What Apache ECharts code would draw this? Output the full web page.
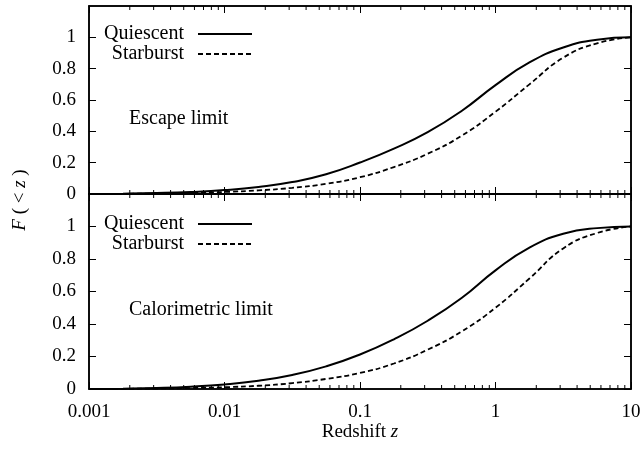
<!DOCTYPE html>
<html><head><meta charset="utf-8">
<script src="https://cdn.jsdelivr.net/npm/echarts@6/dist/echarts.min.js"></script>
<style>html,body{margin:0;padding:0;background:#fff}#c{width:644px;height:453px}</style>
</head><body><div id="c"></div>
<script>
const zValues = [0.001, 0.00178, 0.00316, 0.00562, 0.01, 0.0178, 0.0316, 0.0562, 0.1, 0.178, 0.316, 0.562, 1, 1.78, 3.16, 5.62, 10];
const escapeQuiescent = [0, 0.002, 0.006, 0.013, 0.025, 0.045, 0.076, 0.126, 0.201, 0.290, 0.395, 0.530, 0.695, 0.840, 0.935, 0.985, 1.0];
const escapeStarburst = [0, 0.001, 0.003, 0.007, 0.013, 0.023, 0.039, 0.065, 0.107, 0.172, 0.257, 0.372, 0.525, 0.700, 0.870, 0.962, 1.0];
const caloQuiescent = [0, 0.002, 0.006, 0.014, 0.028, 0.051, 0.086, 0.139, 0.212, 0.306, 0.420, 0.560, 0.730, 0.870, 0.955, 0.990, 1.0];
const caloStarburst = [0, 0.001, 0.003, 0.006, 0.011, 0.020, 0.036, 0.062, 0.099, 0.157, 0.242, 0.354, 0.500, 0.680, 0.865, 0.960, 1.0];
const minorTickValues = [0.002,0.003,0.004,0.005,0.006,0.007,0.008,0.009,0.02,0.03,0.04,0.05,0.06,0.07,0.08,0.09,0.2,0.3,0.4,0.5,0.6,0.7,0.8,0.9,2,3,4,5,6,7,8,9];
const xTickLabels = ['0.001', '0.01', '0.1', '1', '10'];
const yTickLabels = ['0', '0.2', '0.4', '0.6', '0.8', '1'];
const seriesNames = ['Quiescent', 'Starburst'];
const panelLabels = ['Escape limit', 'Calorimetric limit'];

const FONT = '"Liberation Serif", "Times New Roman", serif';
const pair = (vals) => zValues.map((z, i) => [z, vals[i]]);

const chart = echarts.init(document.getElementById('c'), null, {renderer: 'canvas'});

const grids = [
  {left: 89, right: 13, top: 6, height: 188, show: true, borderColor: '#000', borderWidth: 1.5, backgroundColor: 'transparent'},
  {left: 89, right: 13, top: 194, height: 195, show: true, borderColor: '#000', borderWidth: 1.5, backgroundColor: 'transparent'}
];

function xAx(gi, pos, labels) {
  return {
    type: 'log', logBase: 10, min: 0.001, max: 10, gridIndex: gi, position: pos,
    axisLine: {show: true, onZero: false, lineStyle: {color: '#000', width: 1.5}},
    axisTick: {show: true, inside: true, length: 7, lineStyle: {color: '#000', width: 1}},
    splitLine: {show: false},
    axisLabel: {show: labels, margin: 14, color: '#000', fontFamily: FONT, fontSize: 19,
      formatter: (v, i) => xTickLabels[i] !== undefined ? xTickLabels[i] : ''},
    name: labels ? '{n|Redshift }{i|z}' : '',
    nameLocation: 'middle', nameGap: 27,
    nameTextStyle: {rich: {n: {fontFamily: FONT, fontSize: 19, color: '#000'}, i: {fontFamily: FONT, fontSize: 19, fontStyle: 'italic', color: '#000'}}}
  };
}
function yAx(gi, pos, labels) {
  return {
    type: 'value', min: 0, max: 1.2, interval: 0.2, gridIndex: gi, position: pos,
    axisLine: {show: true, onZero: false, lineStyle: {color: '#000', width: 1.5}},
    axisTick: {show: true, inside: true, length: 7, lineStyle: {color: '#000', width: 1}},
    splitLine: {show: false},
    axisLabel: {show: labels, showMaxLabel: false, margin: 13, color: '#000', fontFamily: FONT, fontSize: 19,
      formatter: (v, i) => yTickLabels[i] !== undefined ? yTickLabels[i] : ''}
  };
}

const minorTickSeries = (gi) => ({
  type: 'custom', xAxisIndex: gi * 2, yAxisIndex: gi * 2, silent: true, z: 5,
  data: minorTickValues.map(v => [v, 0.5]),
  encode: {x: 0, y: 1},
  renderItem: (params, api) => {
    const x = api.coord([api.value(0), 0.5])[0];
    const cs = params.coordSys;
    const b = cs.y + cs.height;
    return {type: 'group', children: [
      {type: 'line', shape: {x1: x, y1: b, x2: x, y2: b - 4}, style: {stroke: '#000', lineWidth: 1}},
      {type: 'line', shape: {x1: x, y1: cs.y, x2: x, y2: cs.y + 4}, style: {stroke: '#000', lineWidth: 1}}
    ]};
  }
});

const lineSeries = (gi, name, vals, dashed) => ({
  type: 'line', name: name, xAxisIndex: gi * 2, yAxisIndex: gi * 2,
  data: pair(vals), smooth: 0.5, symbol: 'none', z: 3,
  lineStyle: {color: '#000', width: dashed ? 1.8 : 2, type: dashed ? [5, 3] : 'solid'},
  itemStyle: {color: '#000'}
});

const legendFor = (top) => ({
  orient: 'vertical', align: 'right', right: 391, top: top, itemGap: 0, padding: 0,
  itemWidth: 54, itemHeight: 20, selectedMode: false,
  data: seriesNames,
  itemStyle: {opacity: 0, borderWidth: 0},
  textStyle: {fontFamily: FONT, fontSize: 20, color: '#000', padding: [0, 9, 0, 0], lineHeight: 20}
});

chart.setOption({
  animation: false,
  backgroundColor: '#fff',
  grid: grids,
  xAxis: [xAx(0, 'bottom', false), xAx(0, 'top', false), xAx(1, 'bottom', true), xAx(1, 'top', false)],
  yAxis: [yAx(0, 'left', true), yAx(0, 'right', false), yAx(1, 'left', true), yAx(1, 'right', false)],
  legend: [legendFor(24), legendFor(214)],
  series: [
    lineSeries(0, seriesNames[0], escapeQuiescent, false),
    lineSeries(0, seriesNames[1], escapeStarburst, true),
    lineSeries(1, seriesNames[0], caloQuiescent, false),
    lineSeries(1, seriesNames[1], caloStarburst, true),
    minorTickSeries(0), minorTickSeries(1)
  ],
  graphic: [
    {type: 'text', left: 129, top: 109, style: {text: panelLabels[0], font: '20px ' + FONT, fill: '#000'}},
    {type: 'text', left: 129, top: 300, style: {text: panelLabels[1], font: '20px ' + FONT, fill: '#000'}},
    {type: 'text', x: 20, y: 200, rotation: Math.PI / 2,
      style: {text: '{i|F} ( < {i|z} )', align: 'center', verticalAlign: 'middle', fill: '#000',
        font: '19px ' + FONT, rich: {i: {fontStyle: 'italic', fontFamily: FONT, fontSize: 19}}}}
  ]
});
</script></body></html>
